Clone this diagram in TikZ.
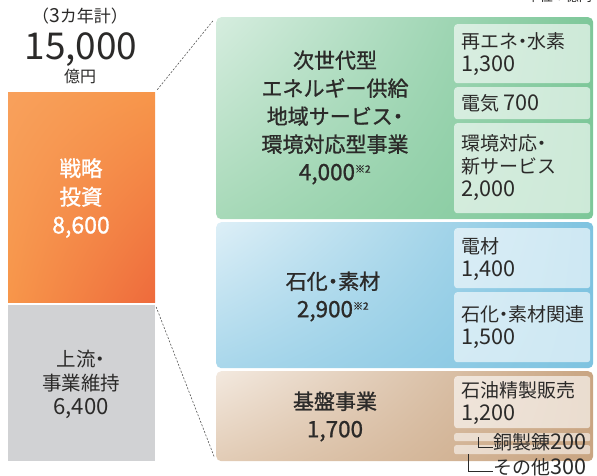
\documentclass[tikz,border=0pt]{standalone}
\usepackage{fontspec}
\usetikzlibrary{shadings}
\setmainfont{Noto Sans CJK JP}
\newfontfamily\medf{Noto Sans CJK JP}[FakeBold=1.1]
\newfontfamily\numf{Noto Sans CJK JP}[Scale=1.14]
\newfontfamily\nummf{Noto Sans CJK JP}[Scale=1.07, FakeBold=1.1]
\newfontfamily\dotf{Noto Sans CJK JP}[RawFeature=+palt]
\newfontfamily\dotmf{Noto Sans CJK JP}[RawFeature=+palt, FakeBold=1.1]
\newcommand\nm[1]{{\numf #1}}
\newcommand\nmm[1]{{\nummf #1}}
\newcommand\dt{{\dotf ・}}
\newcommand\dtm{{\dotmf ・}}
\newcommand\kome{\textsuperscript{\fontsize{10}{10}\selectfont ※2}}
\definecolor{ink}{HTML}{2B2A29}
\definecolor{orA}{HTML}{F7964A}
\definecolor{orB}{HTML}{EE6A3C}
\definecolor{grayBar}{HTML}{D1D2D4}
\definecolor{gA}{HTML}{D6EDDF}
\definecolor{gB}{HTML}{A7D9B8}
\definecolor{gC}{HTML}{7DC799}
\definecolor{bA}{HTML}{DDEFF7}
\definecolor{bB}{HTML}{A9D7EB}
\definecolor{bC}{HTML}{7EC3E0}
\definecolor{nA}{HTML}{F3E9DF}
\definecolor{nB}{HTML}{E2CCB6}
\definecolor{nC}{HTML}{C9A582}
\tikzset{
  panel/.style={rectangle, rounded corners=5pt, anchor=north west, inner sep=0},
  subbox/.style={rectangle, rounded corners=3pt, anchor=north west, inner sep=0, fill=white, fill opacity=0.62},
  thinbox/.style={rectangle, rounded corners=2pt, anchor=north west, inner sep=0, fill=white, fill opacity=0.55},
  link/.style={draw=ink!80, line width=0.6pt, dash pattern=on 2pt off 1.6pt},
  bracket/.style={draw=ink, line width=0.6pt},
  lbl/.style={inner sep=0, text=ink},
  big/.style={lbl, font=\fontsize{21}{28}\medf, align=center},
  small/.style={lbl, font=\fontsize{19}{23}\selectfont, align=left, anchor=west},
}
\begin{document}
\begin{tikzpicture}[x=1pt,y=-1pt]
\useasboundingbox (0,0) rectangle (597,476);
% left bars
\node[rectangle, anchor=north west, inner sep=0, minimum width=147pt, minimum height=210pt,
  upper left=orA!90!white, upper right=orA, lower left=orA, lower right=orB] (strat) at (8,92) {};
\node[rectangle, anchor=north west, inner sep=0, minimum width=147pt, minimum height=156pt, fill=grayBar] (up) at (8,305) {};
% panels
\node[panel, minimum width=377pt, minimum height=202pt,
  upper left=gA, lower left=gB, upper right=gC, lower right=gC] (green) at (216,17) {};
\node[panel, minimum width=377pt, minimum height=146pt,
  upper left=bA, lower left=bB, upper right=bC, lower right=bC] (blue) at (216,222) {};
\node[panel, minimum width=377pt, minimum height=90pt,
  upper left=nA, lower left=nB, upper right=nC, lower right=nC] (brown) at (216,371) {};
% sub boxes
\node[subbox, minimum width=136pt, minimum height=59pt] (g1) at (454,24) {};
\node[subbox, minimum width=136pt, minimum height=32pt] (g2) at (454,87) {};
\node[subbox, minimum width=136pt, minimum height=90pt] (g3) at (454,123) {};
\node[subbox, minimum width=136pt, minimum height=60pt] (b1) at (454,228) {};
\node[subbox, minimum width=136pt, minimum height=70pt] (b2) at (454,292) {};
\node[subbox, minimum width=136pt, minimum height=52pt] (n1) at (454,376) {};
\node[thinbox, minimum width=136pt, minimum height=8pt] (n2) at (454,433) {};
\node[thinbox, minimum width=136pt, minimum height=9pt] (n3) at (454,445) {};
% dashed links
\draw[link, shorten <=3pt, shorten >=4pt] (strat.north east) -- (green.north west);
\draw[link, shorten <=2pt, shorten >=4pt] (up.north east) -- (brown.south west);
% top texts
\node[lbl, font=\fontsize{17}{18}\selectfont, anchor=base, text height=12pt, text depth=2pt] (period) at (80,23) {（\nm{3}カ年計）};
\node[lbl, font=\fontsize{37}{40}\selectfont, anchor=base, text height=27pt, text depth=0pt] (total) at (81,60) {15,000};
\node[lbl, font=\fontsize{16}{18}\selectfont, anchor=base, text height=13pt, text depth=1pt] (unit) at (80,83) {億円};
\node[lbl, font=\fontsize{13}{15}\selectfont, anchor=east] (unitnote) at (592,-3) {単位：億円};
% left bar texts
\node[big, text=white, font=\fontsize{21.5}{28.5}\medf] (stratT) at (81,198) {戦略\\投資\\\nmm{8,600}};
\node[lbl, align=center, font=\fontsize{19.5}{24}\selectfont] (upT) at (81,384) {上流\dt\\事業維持\\\nm{6,400}};
% green texts
\node[big] (gT) at (335,117.5) {次世代型\\エネルギー供給\\地域サービス\dtm\\環境対応型事業\\\nmm{4,000}\kome};
\node[small] (g1T) at (461,54.5) {再エネ\dt 水素\\\nm{1,300}};
\node[small] (g2T) at (461,103) {電気 \nm{700}};
\node[small] (g3T) at (461,167.5) {環境対応\dt\\新サービス\\\nm{2,000}};
% blue texts
\node[big] (bT) at (333,296.5) {石化\dtm 素材\\\nmm{2,900}\kome};
\node[small] (b1T) at (461,259.5) {電材\\\nm{1,400}};
\node[small] (b2T) at (461,327.5) {石化\dt 素材関連\\\nm{1,500}};
% brown texts
\node[big] (nT) at (335,416.5) {基盤事業\\\nmm{1,700}};
\node[small] (n1T) at (461,403.5) {石油精製販売\\\nm{1,200}};
\node[lbl, anchor=west, font=\fontsize{19}{20}\selectfont] (n2T) at (493,442) {銅製錬\nm{200}};
\node[lbl, anchor=west, font=\fontsize{19}{20}\selectfont] (n3T) at (493,467) {その他\nm{300}};
\coordinate (k2a) at (478,437);
\coordinate (k2b) at (478,447);
\coordinate (k3a) at (468,454);
\coordinate (k3b) at (468,471);
\draw[bracket] (k2a) -- (k2b) -- (n2T.west |- k2b);
\draw[bracket] (k3a) -- (k3b) -- (n3T.west |- k3b);
\end{tikzpicture}
\end{document}
